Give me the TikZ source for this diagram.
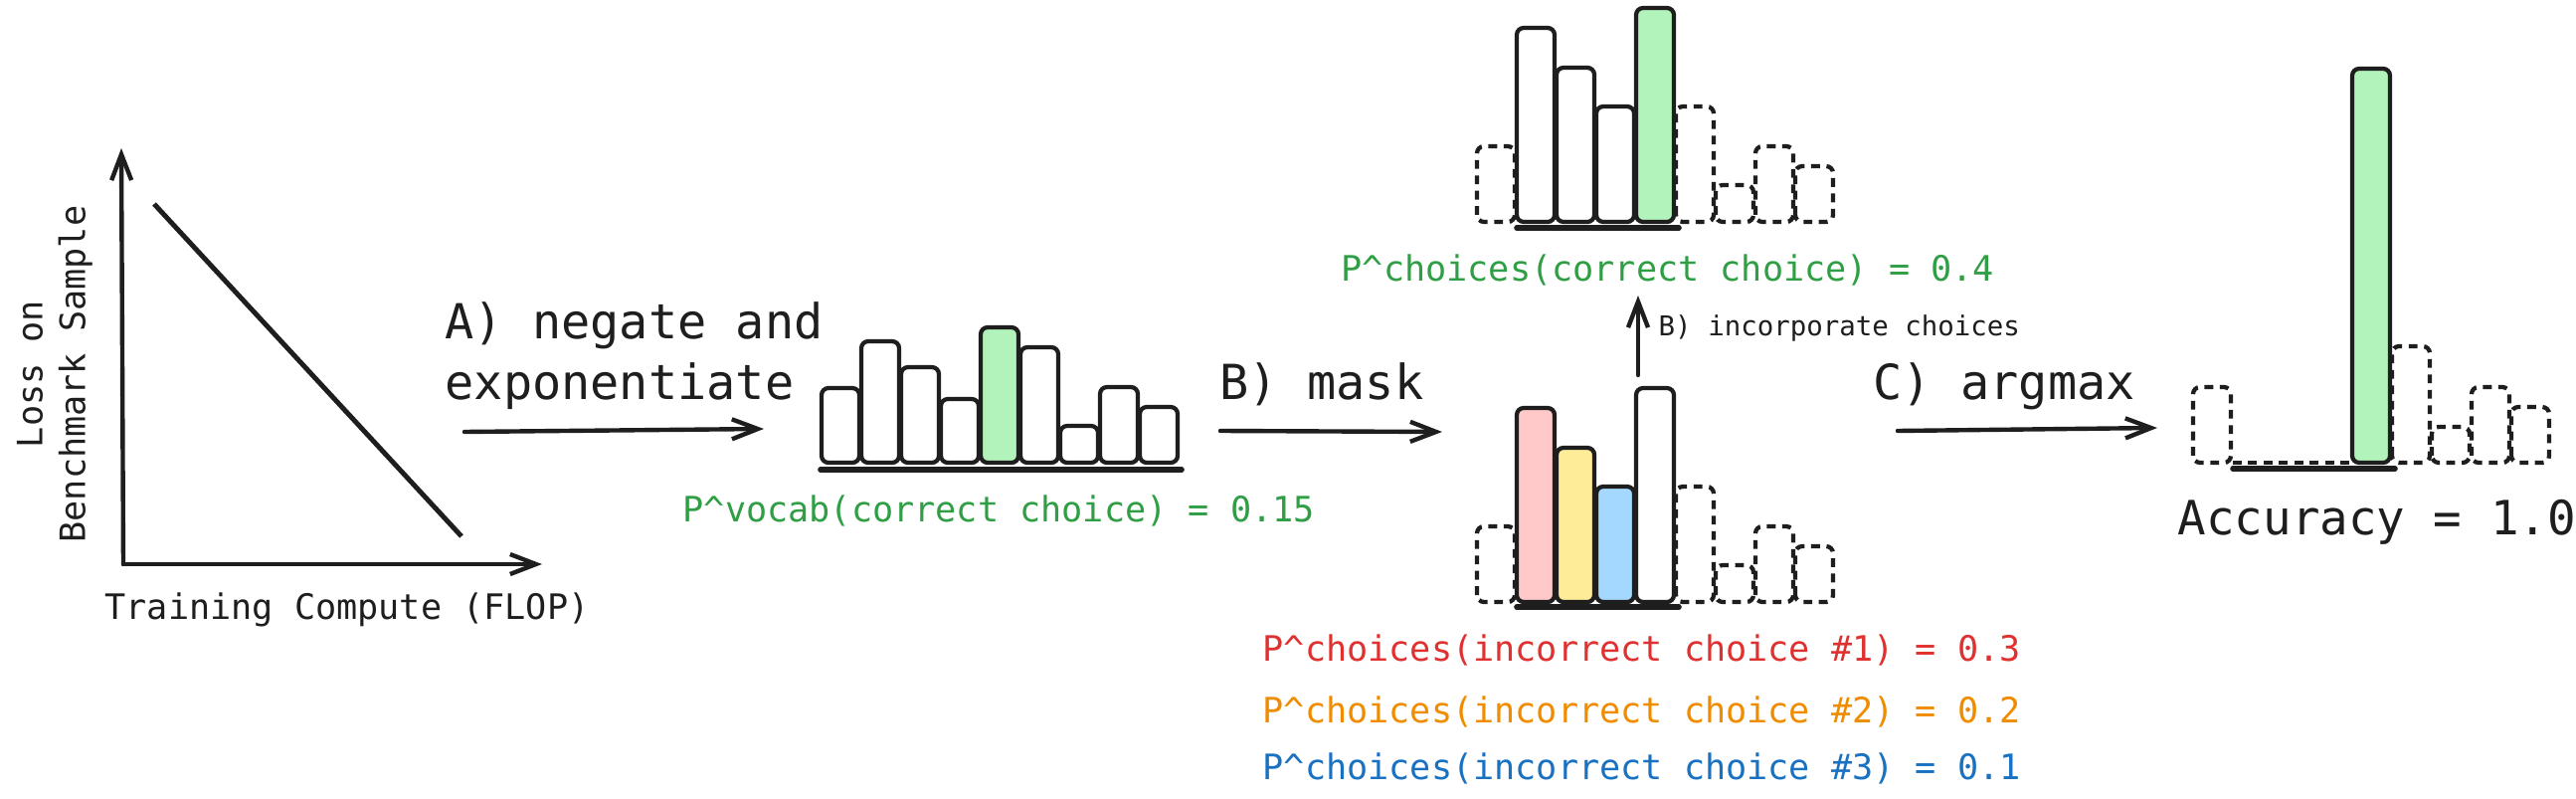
\documentclass[tikz,border=0pt]{standalone}
\usepackage{fontspec}
\newfontfamily\sketchfont{DejaVu Sans Mono}
\usetikzlibrary{arrows.meta}
\definecolor{ink}{HTML}{1E1E1E}
\definecolor{rightfill}{HTML}{B2F2BB}
\definecolor{onefill}{HTML}{FFC9C9}
\definecolor{twofill}{HTML}{FFEC99}
\definecolor{threefill}{HTML}{A5D8FF}
\definecolor{righttext}{HTML}{2F9E44}
\definecolor{onetext}{HTML}{E03131}
\definecolor{twotext}{HTML}{F08C00}
\definecolor{threetext}{HTML}{1971C2}
\tikzset
{
    plainbar/.style = {draw=ink, line width=1.2pt, rounded corners=0.07cm, fill=white},
    rightbar/.style = {plainbar, fill=rightfill},
    wrongone/.style = {plainbar, fill=onefill},
    wrongtwo/.style = {plainbar, fill=twofill},
    wrongthree/.style = {plainbar, fill=threefill},
    ghostbar/.style = {draw=ink, line width=1.2pt, rounded corners=0.07cm, dash pattern=on 2.5pt off 1.9pt},
    baseline/.style = {draw=ink, line width=1.6pt, line cap=round},
    barb/.style = {-{Straight Barb[length=0.26cm, width=0.2cm]}},
    axisline/.style = {draw=ink, line width=1.25pt, line cap=round, barb},
    fitline/.style = {draw=ink, line width=1.4pt},
    steparrow/.style = {draw=ink, line width=1.25pt, line cap=round, barb},
    bigtext/.style = {font=\sketchfont\fontsize{13.8}{16}\selectfont, text=ink, inner sep=0pt},
    midtext/.style = {font=\sketchfont\fontsize{10}{12.2}\selectfont, text=ink, inner sep=0pt},
    smalltext/.style = {font=\sketchfont\fontsize{7.8}{9}\selectfont, text=ink, inner sep=0pt}
}
\begin{document}
\begin{tikzpicture}[x=0.01cm, y=-0.01cm]
	\useasboundingbox (0,0) rectangle (2590,803);
	% loss plot
	\coordinate (origin) at (124,567);
	\coordinate (ytop) at (122,149);
	\coordinate (xend) at (545,567);
	\coordinate (fitstart) at (155,205);
	\coordinate (fitend) at (464,539);
	\draw[axisline] (origin) -- (ytop);
	\draw[axisline] (origin) -- (xend);
	\draw[fitline] (fitstart) -- (fitend);
	\node[midtext, rotate=90, align=center] (lossaxis) at (55,376) {Loss on\\Benchmark Sample};
	\node[midtext] (flopaxis) at (349,613) {Training Compute (FLOP)};

	% A) vocab distribution
	\node[bigtext, anchor=base west] (stepa) at (447,340) {A) negate and};
	\node[bigtext, anchor=base west] (stepa2) at (447,401) {exponentiate};
	\coordinate (astart) at (467,434);
	\coordinate (aend) at (768,431);
	\draw[steparrow] (astart) -- (aend);
	\foreach \h/\s [count=\i from 0] in {75/plainbar, 122/plainbar, 96/plainbar, 64/plainbar, 136/rightbar, 116/plainbar, 37/plainbar, 76/plainbar, 56/plainbar}
		\draw[\s] (826+40*\i,465) rectangle ++(38,-\h);
	\draw[baseline] (825,472) -- (1188,472);
	\node[midtext, text=righttext, anchor=base west] (vocabprob) at (686,524) {P\^{}vocab(correct choice) = 0.15};

	% B) mask to the choices
	\node[bigtext, anchor=base west] (stepb) at (1226,401) {B) mask};
	\coordinate (bstart) at (1227,433);
	\coordinate (bend) at (1450,434);
	\draw[steparrow] (bstart) -- (bend);
	\foreach \h/\s [count=\i from 0] in {76/ghostbar, 195/wrongone, 155/wrongtwo, 116/wrongthree, 215/plainbar, 116/ghostbar, 37/ghostbar, 76/ghostbar, 56/ghostbar}
		\draw[\s] (1485+40*\i,605) rectangle ++(38,-\h);
	\draw[baseline] (1525,610) -- (1688,610);
	\node[midtext, text=onetext, anchor=base west] (wrongprob1) at (1269,664) {P\^{}choices(incorrect choice \#1) = 0.3};
	\node[midtext, text=twotext, anchor=base west] (wrongprob2) at (1269,726) {P\^{}choices(incorrect choice \#2) = 0.2};
	\node[midtext, text=threetext, anchor=base west] (wrongprob3) at (1269,783) {P\^{}choices(incorrect choice \#3) = 0.1};

	% incorporate choices
	\coordinate (upstart) at (1647,377);
	\coordinate (upend) at (1647,297);
	\draw[steparrow] (upstart) -- (upend);
	\node[smalltext, anchor=base west] (incorporate) at (1667,337) {B) incorporate choices};
	\node[midtext, text=righttext, anchor=base west] (rightprob) at (1348,282) {P\^{}choices(correct choice) = 0.4};
	\foreach \h/\s [count=\i from 0] in {76/ghostbar, 195/plainbar, 155/plainbar, 116/plainbar, 215/rightbar, 116/ghostbar, 37/ghostbar, 76/ghostbar, 56/ghostbar}
		\draw[\s] (1485+40*\i,223) rectangle ++(38,-\h);
	\draw[baseline] (1525,229) -- (1688,229);

	% C) argmax
	\node[bigtext, anchor=base west] (stepc) at (1883,401) {C) argmax};
	\coordinate (cstart) at (1908,433);
	\coordinate (cend) at (2169,430);
	\draw[steparrow] (cstart) -- (cend);
	\draw[ghostbar] (2245,465) -- (2365,465);
	\foreach \i/\h/\s in {0/76/ghostbar, 4/396/rightbar, 5/117/ghostbar, 6/36/ghostbar, 7/76/ghostbar, 8/56/ghostbar}
		\draw[\s] (2205+40*\i,465) rectangle ++(38,-\h);
	\draw[baseline] (2245,471) -- (2408,471);
	\node[bigtext, font=\sketchfont\fontsize{13.5}{16}\selectfont, anchor=base west] (accuracy) at (2189,537) {Accuracy = 1.0};
\end{tikzpicture}
\end{document}
